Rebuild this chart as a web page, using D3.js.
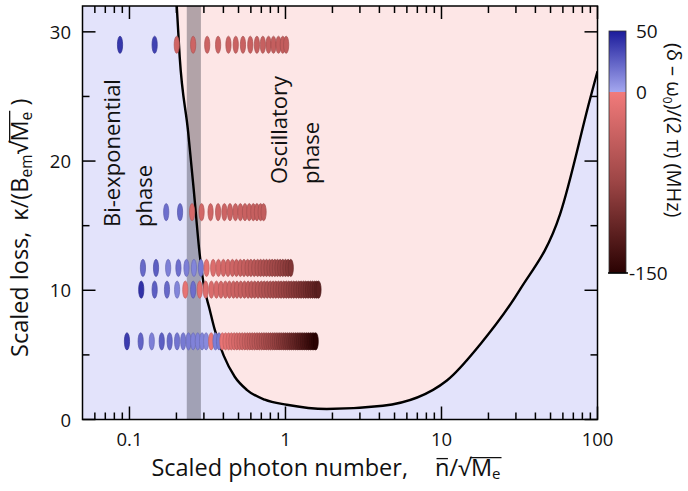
<!DOCTYPE html>
<html>
<head>
<meta charset="utf-8">
<script src="https://cdn.jsdelivr.net/npm/d3@7"></script>
<style>
  html, body { margin: 0; padding: 0; background: #fff; }
  svg text { font-family: "Open Sans", sans-serif; fill: #111; }
</style>
</head>
<body>
<svg id="chart" width="688" height="491"></svg>
<script>
// ---- data -------------------------------------------------------------
// scaled loss of each measurement row
const rowLoss = [29.0, 16.05, 11.73, 10.05, 6.05];

// scaled photon number and detuning (MHz) of every point, row by row
const row1N = [0.087, 0.145, 0.201, 0.256, 0.315, 0.370, 0.431, 0.480, 0.534, 0.595, 0.656, 0.716, 0.779, 0.838, 0.902, 0.961, 1.01];
const row1D = [40, 36, -30, -32, -33, -34, -35, -35, -36, -37, -38, -38, -39, -40, -40, -41, -42];

const row2N = [0.172, 0.211, 0.252, 0.290, 0.331, 0.370, 0.406, 0.441, 0.478, 0.514, 0.550, 0.586, 0.622, 0.656, 0.693, 0.724];
const row2D = [20, 22, -25, -28, -30, -31, -32, -33, -34, -35, -36, -37, -38, -39, -40, -42];

const row3N = [0.122, 0.148, 0.177, 0.206, 0.232, 0.259, 0.287, 0.312, 0.344, 0.372, 0.400, 0.428, 0.457, 0.485, 0.514, 0.542, 0.572, 0.600, 0.631, 0.663, 0.693, 0.724, 0.756, 0.790, 0.822, 0.855, 0.889, 0.925, 0.961, 1.000, 1.040, 1.081];
const row3D = [22, 26, 14, 20, 14, 12, 16, -12, -19, -22, -26, -28, -31, -35, -37, -40, -44, -46, -50, -52, -56, -58, -62, -64, -68, -70, -74, -77, -80, -85, -88, -92];

const row4N = [0.119, 0.145, 0.174, 0.202, 0.228, 0.256, 0.282, 0.308, 0.335, 0.361, 0.386, 0.412, 0.437, 0.464, 0.489, 0.517, 0.546, 0.576, 0.605, 0.635, 0.667, 0.700, 0.731, 0.764, 0.799, 0.833, 0.867, 0.902, 0.937, 0.975, 1.012, 1.050, 1.089, 1.130, 1.173, 1.217, 1.259, 1.305, 1.349, 1.396, 1.444, 1.492, 1.542, 1.588, 1.628];
const row4D = [42, 26, 22, 12, -10, 20, -14, -18, -21, -23, -26, -28, -31, -33, -36, -38, -41, -44, -46, -49, -52, -54, -57, -60, -63, -65, -68, -71, -74, -77, -79, -82, -85, -88, -91, -93, -96, -99, -102, -105, -107, -110, -113, -116, -118];

const row5N = [0.0964, 0.118, 0.139, 0.161, 0.181, 0.202, 0.221, 0.239, 0.256, 0.274, 0.292, 0.310, 0.334, 0.356, 0.375,
  0.394, 0.413, 0.432, 0.450, 0.469, 0.488, 0.508, 0.528, 0.549, 0.570, 0.591, 0.612, 0.634, 0.657, 0.680, 0.704, 0.728, 0.752, 0.777, 0.802,
  0.829, 0.855, 0.882, 0.910, 0.938, 0.968, 0.997, 1.027, 1.058, 1.089, 1.122, 1.156, 1.189, 1.222, 1.257, 1.293, 1.330, 1.368, 1.404, 1.442,
  1.481, 1.521, 1.562];
const row5D = [38, 24, 14, 26, 22, 18, 16, 15, 13, 13, 12, 10, -6, 14, 16,
  -8, -12, -15, -19, -22, -26, -29, -32, -36, -39, -42, -46, -49, -52, -56, -59, -62, -66, -69, -72,
  -76, -79, -82, -86, -89, -92, -96, -99, -102, -106, -109, -112, -116, -119, -122, -126, -129, -132, -136, -139,
  -142, -146, -150];

// phase boundary between bi-exponential and oscillatory regimes
const boundaryN = [0.2008, 0.2099, 0.2379, 0.2581, 0.2820, 0.2992, 0.3269, 0.3520, 0.4019, 0.4729, 0.5646, 0.7366, 1.019, 1.84, 4.21, 10.83, 17.63, 31.84, 57.5, 89.5, 100];
const boundaryK = [32.07, 28.04, 22.22, 17.81, 12.77, 10.44, 8.50, 6.95, 4.94, 3.31, 2.30, 1.53, 1.14, 0.81, 1.06, 3.02, 5.79, 10.05, 15.87, 24.78, 26.95];

// shaded crossover band (photon number range)
const bandN = [0.233, 0.287];

// axes
const xDomain = [0.05, 100];
const yDomain = [0, 32];
const xTicks = [0.1, 1, 10, 100];
const xTickLabels = ["0.1", "1", "10", "100"];
const xMinorTicks = [0.06, 0.07, 0.08, 0.09, 0.2, 0.3, 0.4, 0.5, 0.6, 0.7, 0.8, 0.9, 2, 3, 4, 5, 6, 7, 8, 9, 20, 30, 40, 50, 60, 70, 80, 90];
const yTicks = [0, 10, 20, 30];
const yMinorTicks = [5, 15, 25];
const cbDomain = [-150, 50];
const cbTicks = [50, 0, -150];
const cbTickLabels = ["50", "0", "-150"];

// ---- layout ------------------------------------------------------------
const svg = d3.select("#chart");
const P = { left: 82.5, right: 597.5, top: 6, bottom: 419.5 };
const TITLE_FS = 23.5;

const x = d3.scaleLog().domain(xDomain).range([P.left, P.right]);
const y = d3.scaleLinear().domain(yDomain).range([P.bottom, P.top]);

// detuning colour map: blue above zero, red below
const blueScale = d3.scaleLinear().domain([0, 50]).range(["#a3a6ee", "#1b1b9b"]);
const redScale = d3.scaleLinear().domain([-150, -75, 0]).range(["#2a0202", "#9c4545", "#f27b7b"]);
const colorOf = v => (v >= 0 ? blueScale(v) : redScale(v));

const defs = svg.append("defs");
defs.append("clipPath").attr("id", "plotClip")
  .append("rect")
  .attr("x", P.left).attr("y", P.top)
  .attr("width", P.right - P.left).attr("height", P.bottom - P.top);

const plot = svg.append("g").attr("clip-path", "url(#plotClip)");

// bi-exponential background
plot.append("rect")
  .attr("x", P.left).attr("y", P.top)
  .attr("width", P.right - P.left).attr("height", P.bottom - P.top)
  .attr("fill", "#e3e3fb");

// oscillatory region above the boundary
const boundary = boundaryN.map((n, i) => [n, boundaryK[i]]);
const area = d3.area()
  .x(d => x(d[0]))
  .y0(d => y(d[1]))
  .y1(P.top - 5)
  .curve(d3.curveMonotoneX);
plot.append("path").datum(boundary).attr("d", area).attr("fill", "#fde6e6");

// crossover band
plot.append("rect")
  .attr("x", x(bandN[0])).attr("y", P.top)
  .attr("width", x(bandN[1]) - x(bandN[0])).attr("height", P.bottom - P.top)
  .attr("fill", "rgba(45,45,58,0.36)");

// boundary line
const line = d3.line().x(d => x(d[0])).y(d => y(d[1])).curve(d3.curveMonotoneX);
plot.append("path").datum(boundary).attr("d", line)
  .attr("fill", "none").attr("stroke", "#000").attr("stroke-width", 2.4);

// measurement points
const rows = [
  [row1N, row1D], [row2N, row2D], [row3N, row3D], [row4N, row4D], [row5N, row5D]
];
rows.forEach(([ns, ds], r) => {
  const pts = ns.map((n, i) => ({ n, d: ds[i], k: rowLoss[r] }));
  plot.append("g").selectAll("ellipse").data(pts).join("ellipse")
    .attr("cx", p => x(p.n))
    .attr("cy", p => y(p.k))
    .attr("rx", 2.6).attr("ry", 8.6)
    .attr("fill", p => colorOf(p.d))
    .attr("stroke", p => d3.color(colorOf(p.d)).darker(0.5))
    .attr("stroke-width", 0.7);
});

// frame
svg.append("rect")
  .attr("x", P.left).attr("y", P.top)
  .attr("width", P.right - P.left).attr("height", P.bottom - P.top)
  .attr("fill", "none").attr("stroke", "#000").attr("stroke-width", 1.5);

// inward ticks on all four sides
const MAJ = 13, MIN = 7;
const ticks = svg.append("g").attr("stroke", "#000").attr("stroke-width", 1.5);
xTicks.concat(xMinorTicks).forEach(t => {
  const len = xTicks.includes(t) ? MAJ : MIN;
  const px = x(t);
  ticks.append("line").attr("x1", px).attr("x2", px).attr("y1", P.bottom).attr("y2", P.bottom - len);
  ticks.append("line").attr("x1", px).attr("x2", px).attr("y1", P.top).attr("y2", P.top + len);
});
yTicks.concat(yMinorTicks).forEach(t => {
  const len = yTicks.includes(t) ? MAJ : MIN;
  const py = y(t);
  ticks.append("line").attr("x1", P.left).attr("x2", P.left + len).attr("y1", py).attr("y2", py);
  ticks.append("line").attr("x1", P.right).attr("x2", P.right - len).attr("y1", py).attr("y2", py);
});

// tick labels
svg.append("g").selectAll("text").data(xTicks).join("text")
  .attr("x", d => x(d)).attr("y", 446)
  .attr("text-anchor", "middle").attr("font-size", 18.5)
  .text((d, i) => xTickLabels[i]);
svg.append("g").selectAll("text").data(yTicks).join("text")
  .attr("x", 71).attr("y", d => y(d) + 7)
  .attr("text-anchor", "end").attr("font-size", 18.5)
  .text(d => String(d));

// draws a bar over characters i0..i1 of a text element, inside its own frame
function overbar(textSel, parent, i0, i1, yBar, pad0, pad1) {
  const node = textSel.node();
  const a = node.getStartPositionOfChar(i0).x + pad0;
  const b = node.getEndPositionOfChar(i1).x + pad1;
  parent.append("line")
    .attr("x1", a).attr("x2", b).attr("y1", yBar).attr("y2", yBar)
    .attr("stroke", "#111").attr("stroke-width", 1.3);
}

// x-axis title
const xTitle = svg.append("g").attr("transform", "translate(0,476)");
xTitle.append("text").attr("x", 408).attr("text-anchor", "end")
  .attr("font-size", TITLE_FS).text("Scaled photon number,");
const xe = xTitle.append("text").attr("x", 435).attr("font-size", TITLE_FS);
xe.append("tspan").text("n");
xe.append("tspan").text("/√");
xe.append("tspan").text("M");
xe.append("tspan").attr("font-size", 15).attr("dy", 3).text("e");
overbar(xe, xTitle, 0, 0, -0.74 * TITLE_FS, 1.5, -1.5);
overbar(xe, xTitle, 3, 4, -0.78 * TITLE_FS, -1, 1);

// y-axis title
const yTitle = svg.append("g").attr("transform", "translate(28,357) rotate(-90)");
const yt = yTitle.append("text").attr("font-size", TITLE_FS);
yt.append("tspan").text("Scaled loss,");
yt.append("tspan").attr("dx", 11).text("κ/(B");
yt.append("tspan").attr("font-size", 15.5).attr("dy", 4).text("em");
yt.append("tspan").attr("dy", -4).text("√");
yt.append("tspan").text("M");
yt.append("tspan").attr("font-size", 15.5).attr("dy", 4).text("e");
yt.append("tspan").attr("dy", -4).text(" )");
overbar(yt, yTitle, 19, 20, -0.78 * TITLE_FS, -1, 1);

// phase annotations
const ann = (lines, bx, by) => {
  lines.forEach((s, i) => {
    svg.append("text")
      .attr("transform", `translate(${bx + i * 32},${by}) rotate(-90)`)
      .attr("font-size", 22)
      .text(s);
  });
};
ann(["Bi-exponential", "phase"], 120, 227);
ann(["Oscillatory", "phase"], 287, 184);

// ---- colour bar ---------------------------------------------------------
const CB = { x: 609, w: 17 };
const cy = d3.scaleLinear().domain(cbDomain).range([273, 31]);
const grad = defs.append("linearGradient").attr("id", "cbGrad")
  .attr("x1", 0).attr("x2", 0).attr("y1", 0).attr("y2", 1);
const off = v => (cbDomain[1] - v) / (cbDomain[1] - cbDomain[0]);
[[50, blueScale(50)], [0, blueScale(0)], [0, redScale(0)], [-75, redScale(-75)], [-150, redScale(-150)]]
  .forEach(([v, c]) => grad.append("stop").attr("offset", off(v)).attr("stop-color", c));
svg.append("rect")
  .attr("x", CB.x).attr("y", cy(50))
  .attr("width", CB.w).attr("height", cy(-150) - cy(50))
  .attr("fill", "url(#cbGrad)")
  .attr("stroke", "#333").attr("stroke-width", 0.8);
svg.append("line")
  .attr("x1", CB.x - 1).attr("x2", CB.x + CB.w + 2)
  .attr("y1", cy(-150)).attr("y2", cy(-150))
  .attr("stroke", "#000").attr("stroke-width", 1.5);
svg.append("g").selectAll("text").data(cbTicks).join("text")
  .attr("x", (d, i) => (i === 2 ? 629 : 636))
  .attr("y", d => cy(d) + 7)
  .attr("font-size", 19)
  .text((d, i) => cbTickLabels[i]);

const ct = svg.append("text")
  .attr("transform", "translate(667,43) rotate(90)")
  .attr("font-size", 20);
ct.append("tspan").text("(δ – ω");
ct.append("tspan").attr("font-size", 12).attr("dy", 4).text("0");
ct.append("tspan").attr("dy", -4).text(")/(2 π) (MHz)");
</script>
</body>
</html>
